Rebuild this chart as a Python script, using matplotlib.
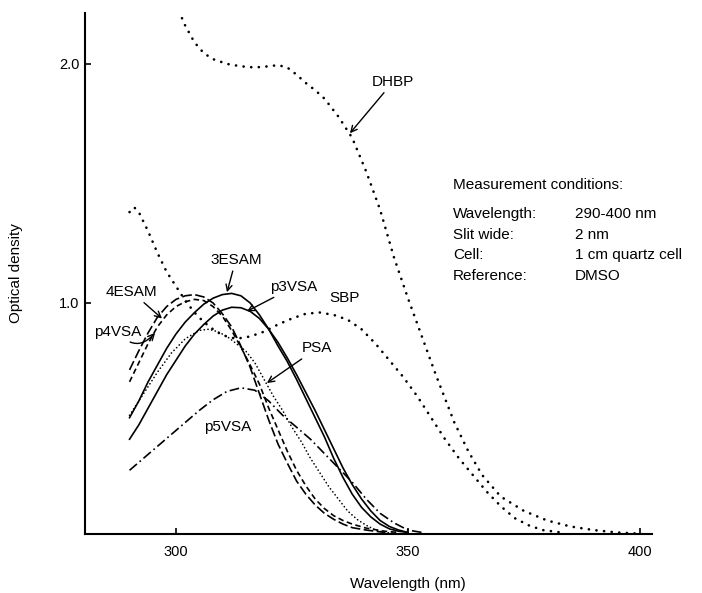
"""UV absorption spectra of the stabiliser samples (optical density vs wavelength)."""
import matplotlib
matplotlib.use("Agg")
import matplotlib.pyplot as plt

plt.rcParams["font.family"] = ["Liberation Sans", "DejaVu Sans"]
plt.rcParams["lines.scale_dashes"] = False

# --- spectra (wavelength in nm, optical density) ---
wl_3esam = [290, 292, 294, 296, 298, 300, 302, 304, 306, 308, 310, 312, 314, 316,
            318, 320, 322, 324, 326, 328, 330, 332, 334, 336, 338, 340, 342, 344,
            346, 348, 350]
od_3esam = [0.52, 0.59, 0.67, 0.74, 0.81, 0.87, 0.92, 0.96, 0.995, 1.02, 1.035, 1.04,
            1.03, 1.0, 0.95, 0.89, 0.82, 0.755, 0.68, 0.60, 0.52, 0.44, 0.35, 0.27,
            0.20, 0.145, 0.105, 0.075, 0.055, 0.045, 0.04]

wl_p3vsa = [290, 292, 294, 296, 298, 300, 302, 304, 306, 308, 310, 312, 314, 316,
            318, 320, 322, 324, 326, 328, 330, 332, 334, 336, 338, 340, 342, 344,
            346, 348, 350]
od_p3vsa = [0.43, 0.49, 0.56, 0.63, 0.70, 0.76, 0.82, 0.87, 0.91, 0.945, 0.97, 0.982,
            0.98, 0.965, 0.935, 0.89, 0.835, 0.77, 0.70, 0.625, 0.55, 0.47, 0.39,
            0.31, 0.24, 0.18, 0.13, 0.09, 0.065, 0.05, 0.04]

wl_4esam = [290, 292, 294, 296, 298, 300, 302, 304, 306, 308, 310, 312, 314, 316,
            318, 320, 322, 324, 326, 328, 330, 332, 334, 336, 338, 341, 345]
od_4esam = [0.72, 0.80, 0.875, 0.94, 0.985, 1.015, 1.03, 1.035, 1.025, 1.0, 0.955,
            0.90, 0.82, 0.73, 0.62, 0.51, 0.41, 0.33, 0.255, 0.20, 0.155, 0.12,
            0.095, 0.075, 0.06, 0.05, 0.04]

wl_p4vsa = [290, 292, 294, 296, 298, 300, 302, 304, 306, 308, 310, 312, 314, 316,
            318, 320, 322, 324, 326, 328, 330, 332, 334, 336, 338, 341, 345, 348]
od_p4vsa = [0.67, 0.75, 0.83, 0.90, 0.95, 0.985, 1.005, 1.015, 1.01, 0.985, 0.945,
            0.885, 0.815, 0.74, 0.66, 0.56, 0.47, 0.38, 0.30, 0.235, 0.18, 0.14,
            0.11, 0.09, 0.075, 0.058, 0.045, 0.04]

wl_psa = [290, 293, 296, 299, 302, 305, 307, 309, 311, 313, 315, 317, 319, 321,
          323, 325, 327, 329, 331, 333, 335, 337, 339, 341, 343, 345, 348]
od_psa = [0.53, 0.62, 0.71, 0.79, 0.85, 0.885, 0.89, 0.88, 0.86, 0.83, 0.80, 0.75,
          0.68, 0.61, 0.55, 0.48, 0.42, 0.35, 0.29, 0.23, 0.18, 0.13, 0.095, 0.07,
          0.05, 0.04, 0.035]

wl_p5vsa = [290, 293, 296, 299, 302, 305, 308, 311, 314, 317, 320, 323, 326, 329,
            332, 335, 338, 341, 344, 347, 350, 353]
od_p5vsa = [0.30, 0.35, 0.40, 0.45, 0.50, 0.55, 0.595, 0.63, 0.645, 0.635, 0.59,
            0.53, 0.48, 0.43, 0.37, 0.31, 0.25, 0.18, 0.12, 0.08, 0.05, 0.04]

wl_sbp = [290, 291, 292, 294, 296, 298, 300, 302, 304, 306, 308, 310, 313, 316, 319,
          322, 325, 328, 331, 334, 337, 340, 343, 346, 349, 352, 355, 358, 361, 364,
          367, 370, 373, 376, 379, 383]
od_sbp = [1.38, 1.40, 1.38, 1.30, 1.21, 1.13, 1.07, 1.01, 0.96, 0.92, 0.89, 0.865,
          0.85, 0.86, 0.88, 0.91, 0.935, 0.955, 0.96, 0.95, 0.93, 0.89, 0.83, 0.76,
          0.69, 0.61, 0.52, 0.43, 0.35, 0.28, 0.21, 0.15, 0.10, 0.07, 0.05, 0.04]

wl_dhbp = [300, 302, 304, 306, 308, 311, 314, 317, 320, 322, 324, 326, 328, 330,
           332, 335, 338, 341, 344, 347, 350, 353, 356, 358, 360, 363, 366, 370,
           375, 380, 385, 390, 395, 400]
od_dhbp = [2.25, 2.16, 2.09, 2.045, 2.02, 2.0, 1.99, 1.985, 1.99, 1.995, 1.985,
           1.955, 1.92, 1.89, 1.855, 1.78, 1.69, 1.55, 1.39, 1.19, 1.02, 0.86, 0.70,
           0.60, 0.50, 0.38, 0.28, 0.19, 0.13, 0.09, 0.065, 0.05, 0.04, 0.035]

x_ticks = [300, 350, 400]
y_ticks = [1.0, 2.0]

conditions = [
    ("Wavelength:", "290-400 nm"),
    ("Slit wide:", "2 nm"),
    ("Cell:", "1 cm quartz cell"),
    ("Reference:", "DMSO"),
]

W, H = 702, 593
fig = plt.figure(figsize=(W / 100, H / 100), dpi=100)
ax = fig.add_axes([85 / W, 59 / H, (652 - 85) / W, (534 - 13) / H])

k = "black"
ax.plot(wl_dhbp, od_dhbp, color=k, lw=1.9, ls=(0, (0.1, 5.4)), dash_capstyle="round")
ax.plot(wl_sbp, od_sbp, color=k, lw=1.9, ls=(0, (0.1, 5.4)), dash_capstyle="round")
ax.plot(wl_psa, od_psa, color=k, lw=1.2, ls=(0, (0.1, 2.6)), dash_capstyle="round")
ax.plot(wl_3esam, od_3esam, color=k, lw=1.2)
ax.plot(wl_p3vsa, od_p3vsa, color=k, lw=1.2)
ax.plot(wl_4esam, od_4esam, color=k, lw=1.2, ls=(0, (7, 2.5)))
ax.plot(wl_p4vsa, od_p4vsa, color=k, lw=1.2, ls=(0, (4, 2.5)))
ax.plot(wl_p5vsa, od_p5vsa, color=k, lw=1.2, ls=(0, (7, 2.5, 1.2, 2.5)))

ax.set_xlim(280.4, 402.6)
ax.set_ylim(0.0335, 2.213)
for s in ("top", "right"):
    ax.spines[s].set_visible(False)
for s in ("left", "bottom"):
    ax.spines[s].set_linewidth(1.5)

ax.set_xticks(x_ticks)
ax.set_xticklabels([str(t) for t in x_ticks])
ax.set_yticks(y_ticks)
ax.set_yticklabels([f"{t:.1f}" for t in y_ticks])
ax.tick_params(axis="both", direction="in", length=4, width=1.2, labelsize=10.5)
ax.tick_params(axis="x", pad=8)
ax.tick_params(axis="y", pad=4)

fig.text(408 / W, 2 / H, "Wavelength (nm)", ha="center", va="bottom", fontsize=11)
fig.text(16 / W, 1 - 273 / H, "Optical density", rotation=90,
         ha="center", va="center", fontsize=11)

arrow = dict(arrowstyle="->", color=k, lw=1.0, shrinkA=1, shrinkB=0)
fs = 11
ax.annotate("DHBP", xy=(337.5, 1.71), xytext=(346.8, 1.925), ha="center",
            va="center", fontsize=fs, arrowprops=arrow)
ax.annotate("3ESAM", xy=(311.0, 1.045), xytext=(312.9, 1.18), ha="center",
            va="center", fontsize=fs, arrowprops=arrow)
ax.annotate("4ESAM", xy=(297.0, 0.935), xytext=(290.5, 1.046), ha="center",
            va="center", fontsize=fs, arrowprops=arrow)
ax.annotate("p4VSA", xy=(295.5, 0.875), xytext=(287.5, 0.88), ha="center",
            va="center", fontsize=fs,
            arrowprops=dict(arrow, connectionstyle="arc3,rad=0.6"))
ax.annotate("p3VSA", xy=(315.3, 0.965), xytext=(325.4, 1.067), ha="center",
            va="center", fontsize=fs, arrowprops=arrow)
ax.annotate("PSA", xy=(319.6, 0.665), xytext=(330.4, 0.81), ha="center",
            va="center", fontsize=fs, arrowprops=arrow)
ax.text(336.4, 1.02, "SBP", ha="center", va="center", fontsize=fs)
ax.text(311.2, 0.48, "p5VSA", ha="center", va="center", fontsize=fs)

fig.text(453 / W, 1 - 185 / H, "Measurement conditions:", ha="left",
         va="center", fontsize=fs)
for i, (name, val) in enumerate(conditions):
    y = 1 - (214 + 20.5 * i) / H
    fig.text(453 / W, y, name, ha="left", va="center", fontsize=fs)
    fig.text(575 / W, y, val, ha="left", va="center", fontsize=fs)

fig.savefig("out.png", dpi=100)
plt.close(fig)
